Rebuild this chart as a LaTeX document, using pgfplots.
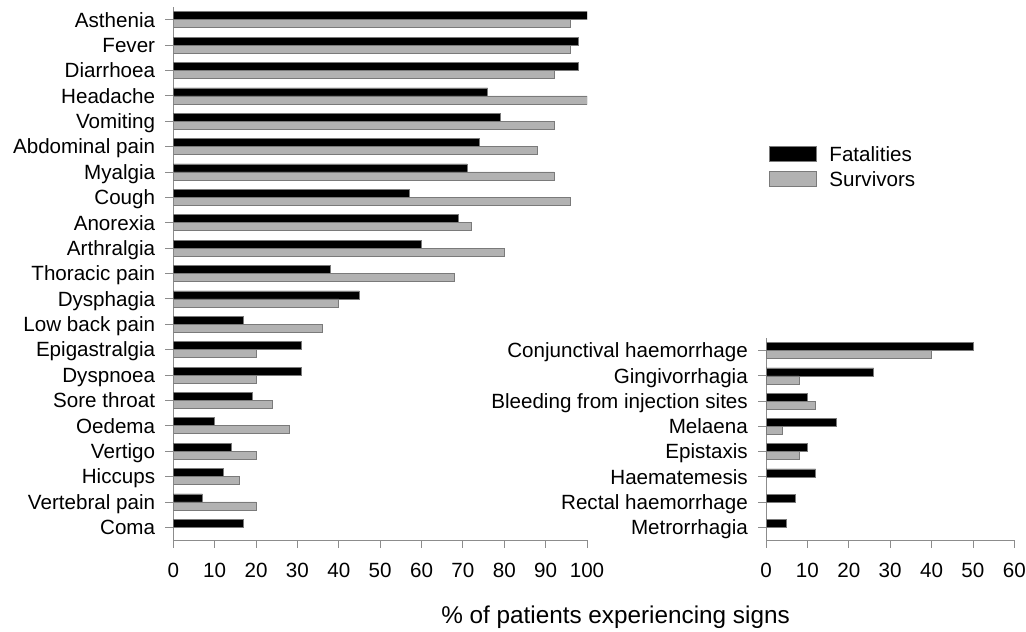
\documentclass[border=0pt]{standalone}
\usepackage{fontspec}
\setmainfont{Liberation Sans}
\usepackage{pgfplots}
\usepackage{pgfplotstable}
\pgfplotsset{compat=1.18}
\definecolor{survgray}{HTML}{B2B2B2}
\definecolor{edgegray}{HTML}{7A7A7A}
\definecolor{axgray}{HTML}{8C8C8C}

\pgfplotstableread{
y fat surv
20 100 96
19 98 96
18 98 92
17 76 100
16 79 92
15 74 88
14 71 92
13 57 96
12 69 72
11 60 80
10 38 68
9 45 40
8 17 36
7 31 20
6 31 20
5 19 24
4 10 28
3 14 20
2 12 16
1 7 20
0 17 nan
}\lefttab

\pgfplotstableread{
y fat surv
7 50 40
6 26 8
5 10 12
4 17 4
3 10 8
2 12 nan
1 7 nan
0 5 nan
}\righttab

\pgfplotsset{
  mystyle/.style={
    scale only axis,
    xbar, bar width=8pt,
    axis x line*=bottom, axis y line*=left,
    axis line style={axgray, line width=0.8pt, -},
    tick style={axgray, line width=0.8pt},
    tick align=outside,
    major tick length=8pt,
    ytick={0,...,20},
    xmin=0,
    ticklabel style={font=\fontsize{20.6pt}{24pt}\selectfont, inner sep=0pt},
    yticklabel style={text height=14.7pt, text depth=0pt},
    /pgf/number format/assume math mode=true,
    yticklabel shift=10pt,
    xticklabel shift=15pt,
    legend image code/.code={\draw[##1] (0pt,0pt) rectangle (47pt,15pt); \path (60.3pt,0pt);},
  },
  fatstyle/.style={fill=black, draw=edgegray, line width=0.6pt, bar shift=4pt},
  survstyle/.style={fill=survgray, draw=edgegray, line width=0.6pt, bar shift=-4pt},
}

\begin{document}
\begin{tikzpicture}
\useasboundingbox (0pt,0pt) rectangle (1026pt,632pt);
\begin{axis}[mystyle,
  at={(173.3pt,92pt)}, anchor=south west,
  width=413.7pt, height=533pt,
  xmax=100, ymin=-0.5, ymax=20.5,
  xtick={0,10,...,100},
  ytick={0,...,20},
  yticklabels={Coma,Vertebral pain,Hiccups,Vertigo,Oedema,Sore throat,Dyspnoea,Epigastralgia,Low back pain,Dysphagia,Thoracic pain,Arthralgia,Anorexia,Cough,Myalgia,Abdominal pain,Vomiting,Headache,Diarrhoea,Fever,Asthenia},
  legend style={at={(1.4383,0.7398)}, anchor=north west, draw=none, fill=none, inner sep=0pt,
    font=\fontsize{20.6pt}{24pt}\selectfont, row sep=6pt,
    nodes={inner sep=0pt, text height=15pt, text depth=4pt, anchor=base west}},
  legend cell align=left,
]
\addplot[fatstyle] table[x=fat, y=y] {\lefttab};
\addlegendentry{Fatalities}
\addplot[survstyle] table[x=surv, y=y] {\lefttab};
\addlegendentry{Survivors}
\end{axis}

\begin{axis}[mystyle,
  at={(766pt,92pt)}, anchor=south west,
  width=248.3pt, height=202pt,
  xmax=60, ymin=-0.5, ymax=7.5,
  xtick={0,10,...,60},
  ytick={0,...,7},
  yticklabels={Metrorrhagia,Rectal haemorrhage,Haematemesis,Epistaxis,Melaena,Bleeding from injection sites,Gingivorrhagia,Conjunctival haemorrhage},
]
\addplot[fatstyle] table[x=fat, y=y] {\righttab};
\addplot[survstyle] table[x=surv, y=y] {\righttab};
\end{axis}

\node[anchor=base, font=\fontsize{24.3pt}{28pt}\selectfont, inner sep=0pt] at (615.5pt,8.7pt) {\% of patients experiencing signs};
\end{tikzpicture}
\end{document}
